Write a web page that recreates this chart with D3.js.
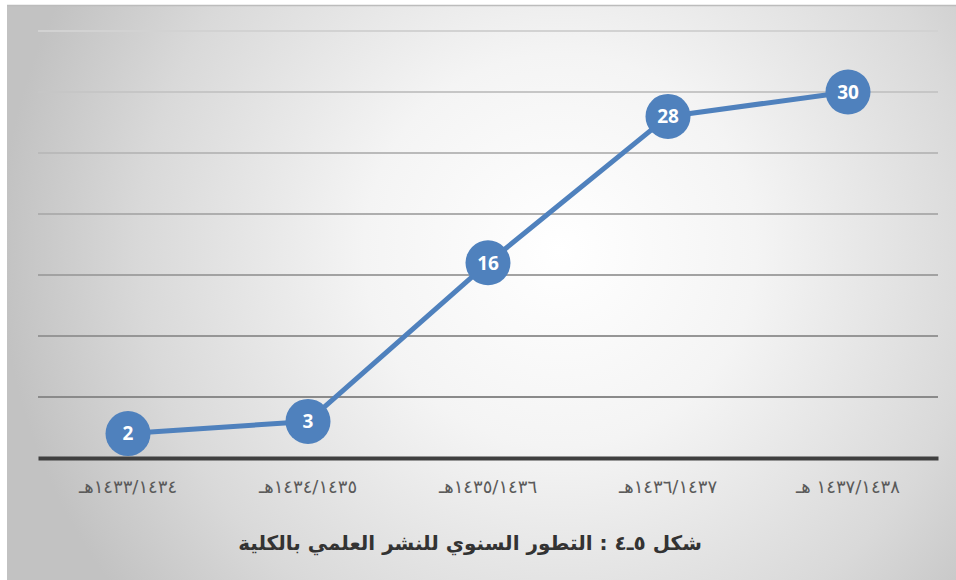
<!DOCTYPE html>
<html>
<head>
<meta charset="utf-8">
<script src="https://cdn.jsdelivr.net/npm/d3@7"></script>
<style>
  html, body { margin: 0; padding: 0; background: #ffffff; }
  svg { display: block; }
</style>
</head>
<body>
<svg id="chart" width="956" height="580"></svg>
<script>
// Academic years (Hijri) and number of publications per year
const years = ["١٤٣٣/١٤٣٤هـ", "١٤٣٤/١٤٣٥هـ", "١٤٣٥/١٤٣٦هـ", "١٤٣٦/١٤٣٧هـ", "١٤٣٧/١٤٣٨ هـ"];
const publications = [2, 3, 16, 28, 30];
const yTicks = [0, 5, 10, 15, 20, 25, 30, 35];
const caption = "شكل ٥ـ٤ : التطور السنوي للنشر العلمي بالكلية";

const W = 956, H = 580;
const margin = { left: 38, right: 18, top: 31, bottom: 122 };
const svg = d3.select("#chart");
const defs = svg.append("defs");

// soft radial light behind the plot
const bg = defs.append("radialGradient")
  .attr("id", "bgGrad")
  .attr("gradientUnits", "userSpaceOnUse")
  .attr("cx", 560).attr("cy", 250).attr("r", 560)
  .attr("fx", 560).attr("fy", 250);
bg.append("stop").attr("offset", "0%").attr("stop-color", "#ffffff");
bg.append("stop").attr("offset", "35%").attr("stop-color", "#f4f4f4");
bg.append("stop").attr("offset", "75%").attr("stop-color", "#d9d9d9");
bg.append("stop").attr("offset", "100%").attr("stop-color", "#c2c2c2");

svg.append("rect")
  .attr("x", 7).attr("y", 5).attr("width", W - 7).attr("height", H - 5)
  .attr("fill", "url(#bgGrad)");
svg.append("line")
  .attr("x1", 7).attr("x2", W).attr("y1", 5.5).attr("y2", 5.5)
  .attr("stroke", "#bcbcbc").attr("stroke-width", 1.5);

const x = d3.scaleBand()
  .domain(years)
  .range([margin.left, W - margin.right])
  .padding(0);

const y = d3.scaleLinear()
  .domain([0, 35])
  .range([458, margin.top]);

// gridlines, darker towards the base
const gridColor = d3.scaleLinear().domain([5, 35]).range(["#8a8a8a", "#d2d2d2"]);
svg.append("g")
  .selectAll("line")
  .data(yTicks.filter(d => d > 0))
  .join("line")
  .attr("x1", margin.left).attr("x2", W - margin.right)
  .attr("y1", d => y(d)).attr("y2", d => y(d))
  .attr("stroke", d => gridColor(d))
  .attr("stroke-width", 2);

// category axis
const xAxis = svg.append("g")
  .attr("transform", `translate(0,${y(0)})`)
  .call(d3.axisBottom(x).tickSize(0).tickPadding(22));
xAxis.select(".domain")
  .attr("stroke", "#3f3f3f").attr("stroke-width", 4);
xAxis.selectAll("text")
  .attr("direction", "rtl")
  .attr("font-family", "DejaVu Sans, sans-serif")
  .attr("font-size", 18)
  .attr("letter-spacing", 1.6)
  .attr("fill", "#5a5a5a");

// series line
const cx = d => x(d) + x.bandwidth() / 2;
svg.append("path")
  .datum(years.map((yr, i) => [cx(yr), y(publications[i])]))
  .attr("d", d3.line())
  .attr("fill", "none")
  .attr("stroke", "#4f81bd")
  .attr("stroke-width", 5)
  .attr("stroke-linejoin", "round");

// markers with value labels
const pts = svg.append("g")
  .selectAll("g")
  .data(years.map((yr, i) => ({ yr, v: publications[i] })))
  .join("g")
  .attr("transform", d => `translate(${cx(d.yr)},${y(d.v)})`);
pts.append("circle")
  .attr("r", 22.5)
  .attr("fill", "#4f81bd");
pts.append("text")
  .attr("text-anchor", "middle")
  .attr("dy", "0.36em")
  .attr("font-family", "Open Sans, sans-serif")
  .attr("font-weight", "bold")
  .attr("font-size", 19)
  .attr("fill", "#ffffff")
  .text(d => d.v);

// figure caption
svg.append("text")
  .attr("x", 470).attr("y", 550)
  .attr("direction", "rtl")
  .attr("text-anchor", "middle")
  .attr("font-family", "DejaVu Sans, sans-serif")
  .attr("font-weight", "bold")
  .attr("font-size", 20)
  .attr("fill", "#333333")
  .text(caption);
</script>
</body>
</html>
